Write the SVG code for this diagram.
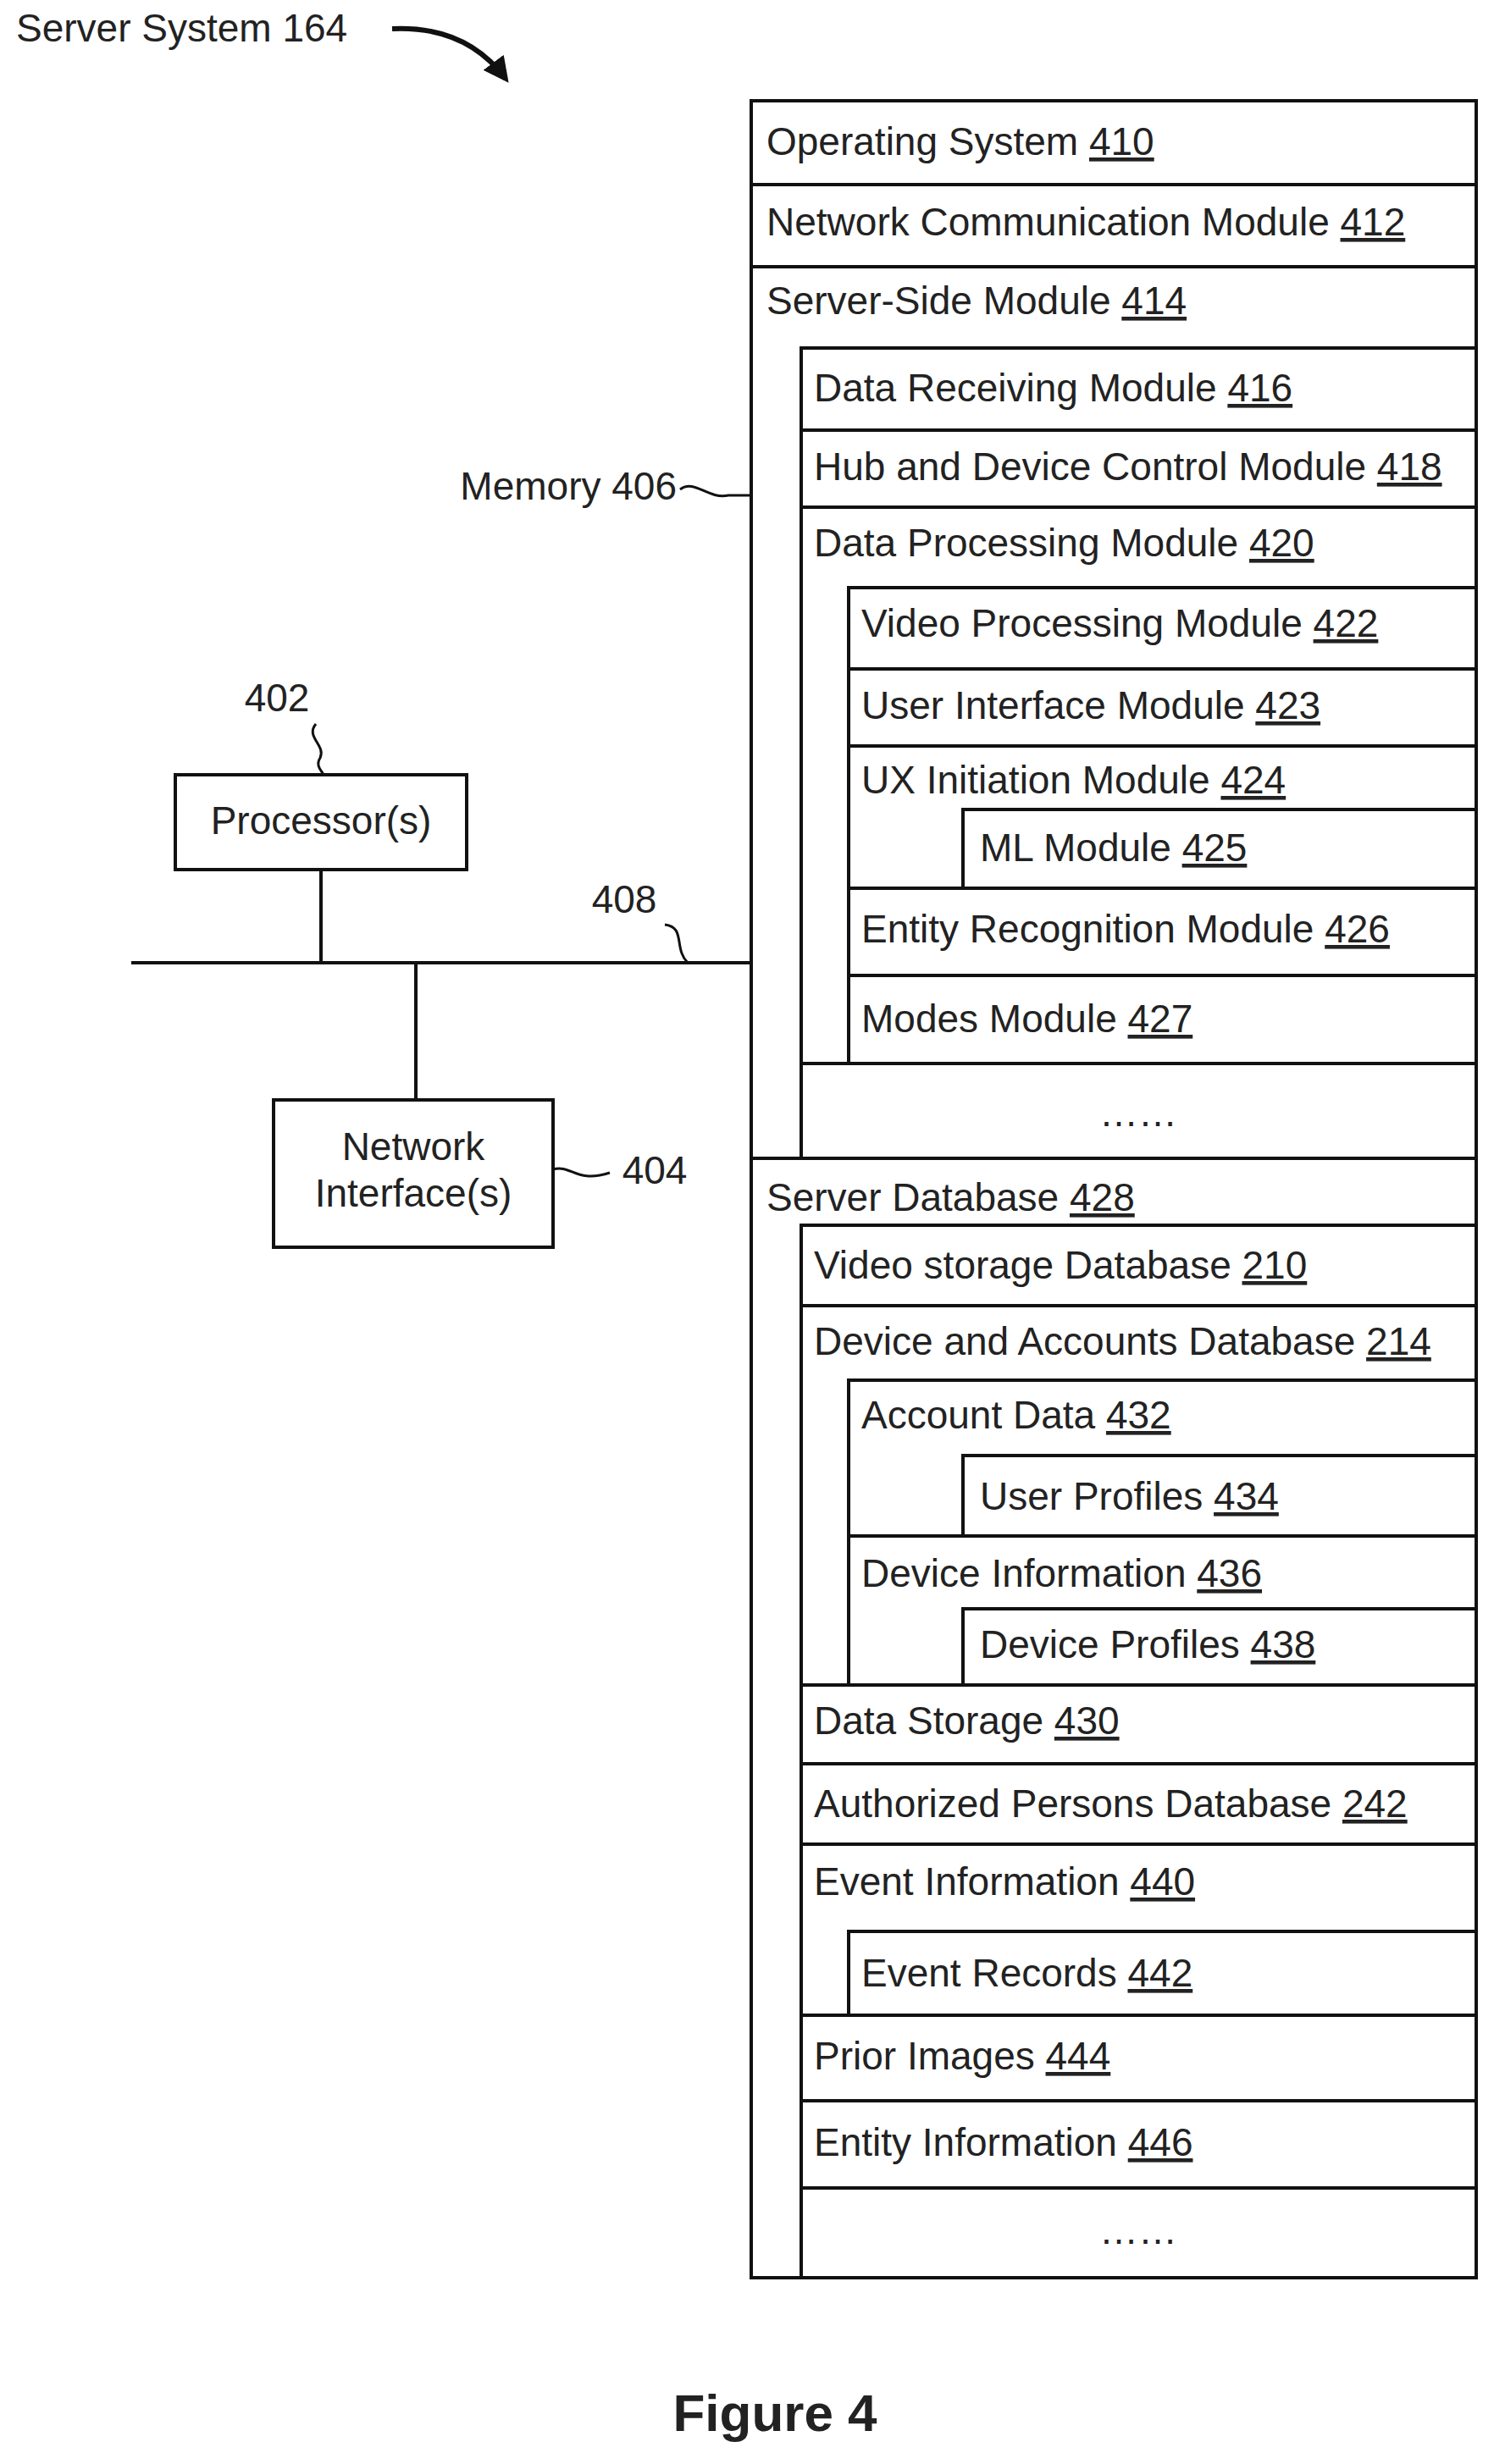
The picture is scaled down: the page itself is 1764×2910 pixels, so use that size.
<svg xmlns="http://www.w3.org/2000/svg" width="1764" height="2910" viewBox="0 0 1764 2910">
<style>
text{font-family:"Liberation Sans",Arial,sans-serif;font-size:46px;fill:#222}
.u{text-decoration:underline}
rect,line,path{fill:none;stroke:#111;stroke-width:4}
.fig{font-size:62px;font-weight:bold}
</style>
<defs><marker id="ah" viewBox="0 0 10 10" refX="8" refY="5" markerWidth="5" markerHeight="5" orient="auto"><path d="M0,0 L10,5 L0,10 Z" style="fill:#111;stroke:none"/></marker></defs>
<rect x="0" y="0" width="1764" height="2910" style="fill:#fff;stroke:none"/>
<g transform="translate(-6,-7)">
<g id="title"><text x="25" y="56">Server System 164</text>
<path d="M469,41 Q556,37 603,100" marker-end="url(#ah)" style="stroke-width:6"/></g>
<g id="memory">
<rect x="893" y="126" width="856" height="2571"/>
<line x1="893" y1="225" x2="1749" y2="225"/><line x1="893" y1="322" x2="1749" y2="322"/>
<line x1="893" y1="1375" x2="1749" y2="1375"/>
<text x="911" y="190">Operating System <tspan class="u">410</tspan></text>
<text x="911" y="285">Network Communication Module <tspan class="u">412</tspan></text>
<text x="911" y="378">Server-Side Module <tspan class="u">414</tspan></text>
<rect x="952" y="418" width="797" height="957"/>
<line x1="952" y1="515" x2="1749" y2="515"/><line x1="952" y1="606" x2="1749" y2="606"/><line x1="952" y1="1263" x2="1749" y2="1263"/>
<text x="967" y="481">Data Receiving Module <tspan class="u">416</tspan></text>
<text x="967" y="574">Hub and Device Control Module <tspan class="u">418</tspan></text>
<text x="967" y="664">Data Processing Module <tspan class="u">420</tspan></text>
<rect x="1008" y="701" width="741" height="562"/>
<line x1="1008" y1="797" x2="1749" y2="797"/><line x1="1008" y1="888" x2="1749" y2="888"/><line x1="1008" y1="1056" x2="1749" y2="1056"/><line x1="1008" y1="1159" x2="1749" y2="1159"/>
<text x="1023" y="759">Video Processing Module <tspan class="u">422</tspan></text>
<text x="1023" y="856">User Interface Module <tspan class="u">423</tspan></text>
<text x="1023" y="944">UX Initiation Module <tspan class="u">424</tspan></text>
<rect x="1143" y="963" width="606" height="93"/>
<text x="1163" y="1024">ML Module <tspan class="u">425</tspan></text>
<text x="1023" y="1120">Entity Recognition Module <tspan class="u">426</tspan></text>
<text x="1023" y="1226">Modes Module <tspan class="u">427</tspan></text>
<text x="1350" y="1337" text-anchor="middle">……</text>
<text x="911" y="1437">Server Database <tspan class="u">428</tspan></text>
<rect x="952" y="1454" width="797" height="1243"/>
<line x1="952" y1="1549" x2="1749" y2="1549"/><line x1="952" y1="1997" x2="1749" y2="1997"/><line x1="952" y1="2090" x2="1749" y2="2090"/><line x1="952" y1="2185" x2="1749" y2="2185"/><line x1="952" y1="2387" x2="1749" y2="2387"/><line x1="952" y1="2488" x2="1749" y2="2488"/><line x1="952" y1="2591" x2="1749" y2="2591"/>
<text x="967" y="1517">Video storage Database <tspan class="u">210</tspan></text>
<text x="967" y="1607">Device and Accounts Database <tspan class="u">214</tspan></text>
<rect x="1008" y="1637" width="741" height="360"/>
<line x1="1008" y1="1821" x2="1749" y2="1821"/>
<text x="1023" y="1694">Account Data <tspan class="u">432</tspan></text>
<rect x="1143" y="1726" width="606" height="95"/>
<text x="1163" y="1790">User Profiles <tspan class="u">434</tspan></text>
<text x="1023" y="1881">Device Information <tspan class="u">436</tspan></text>
<rect x="1143" y="1907" width="606" height="90"/>
<text x="1163" y="1965">Device Profiles <tspan class="u">438</tspan></text>
<text x="967" y="2055">Data Storage <tspan class="u">430</tspan></text>
<text x="967" y="2153">Authorized Persons Database <tspan class="u">242</tspan></text>
<text x="967" y="2245">Event Information <tspan class="u">440</tspan></text>
<rect x="1008" y="2288" width="741" height="99"/>
<text x="1023" y="2353">Event Records <tspan class="u">442</tspan></text>
<text x="967" y="2451">Prior Images <tspan class="u">444</tspan></text>
<text x="967" y="2553">Entity Information <tspan class="u">446</tspan></text>
<text x="1350" y="2657" text-anchor="middle">……</text>
<text x="805" y="597" text-anchor="end">Memory 406</text>
</g>
<g id="processor"><rect x="213" y="922" width="344" height="112"/>
<text x="385" y="992" text-anchor="middle">Processor(s)</text>
<text x="333" y="847" text-anchor="middle">402</text></g>
<g id="network"><rect x="329" y="1306" width="330" height="174"/>
<text x="494" y="1377" text-anchor="middle">Network</text>
<text x="494" y="1432" text-anchor="middle">Interface(s)</text>
<text x="779" y="1405" text-anchor="middle">404</text></g>
<g id="bus"><text x="743" y="1085" text-anchor="middle">408</text></g>
<g id="connectors">
<line x1="161" y1="1144" x2="893" y2="1144"/>
<line x1="385" y1="1034" x2="385" y2="1144"/>
<line x1="497" y1="1144" x2="497" y2="1306"/>
<path d="M379,862 C366,877 391,887 384,902 C378,912 386,917 388,922" style="stroke-width:3"/>
<path d="M659,1388 C681,1382 686,1405 726,1392" style="stroke-width:3"/>
<path d="M791,1099 C816,1102 801,1127 818,1144" style="stroke-width:3"/>
<path d="M809,585 C826,572 841,597 866,592 L893,592" style="stroke-width:3"/>
</g>
<text class="fig" x="921" y="2878" text-anchor="middle">Figure 4</text>
</g>
</svg>
